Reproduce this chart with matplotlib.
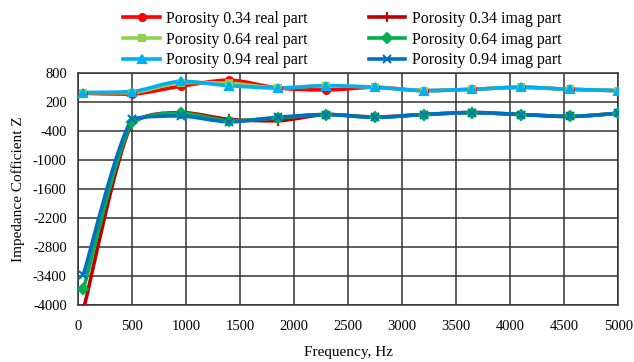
import numpy as np
import matplotlib
matplotlib.use("Agg")
import matplotlib.pyplot as plt
from matplotlib.path import Path
from matplotlib.patches import PathPatch
from matplotlib.lines import Line2D

plt.rcParams['font.family'] = ['Liberation Serif', 'DejaVu Serif']
plt.rcParams['axes.unicode_minus'] = False

# --- Data ---
freq = [50, 500, 950, 1400, 1850, 2300, 2750, 3200, 3650, 4100, 4550, 5000]

real_034 = [380, 360, 524, 650, 490, 448, 503, 434, 462, 503, 462, 434]
real_064 = [390, 390, 600, 590, 490, 537, 503, 434, 462, 503, 462, 434]
real_094 = [395, 414, 627, 537, 490, 537, 503, 434, 462, 503, 462, 434]

imag_034 = [-4100, -230, -20, -160, -190, -60, -110, -60, -20, -60, -100, -35]
imag_064 = [-3670, -220, -35, -190, -130, -60, -117, -60, -20, -60, -100, -35]
imag_094 = [-3370, -150, -90, -210, -117, -60, -117, -60, -20, -60, -100, -35]

labels = ["Porosity 0.34 real part", "Porosity 0.64 real part", "Porosity 0.94 real part",
          "Porosity 0.34 imag part", "Porosity 0.64 imag part", "Porosity 0.94 imag part"]
series = [real_034, real_064, real_094, imag_034, imag_064, imag_094]
colors = ["#FF0000", "#92D050", "#00B0F0", "#C00000", "#00B050", "#0070C0"]
markers = ["o", "s", "^", "+", "D", "x"]
msizes = [5, 5, 6, 7, 5, 6]


def smooth_path(x, y, t=1 / 6):
    # cubic Bezier through every point; control points kept inside each
    # segment's y range so the curve does not overshoot
    pts = np.column_stack([x, y]).astype(float)
    verts = [pts[0]]
    codes = [Path.MOVETO]
    n = len(pts)
    for i in range(n - 1):
        p0 = pts[i - 1] if i > 0 else pts[i]
        p1 = pts[i]
        p2 = pts[i + 1]
        p3 = pts[i + 2] if i + 2 < n else pts[i + 1]
        c1 = p1 + (p2 - p0) * t
        c2 = p2 - (p3 - p1) * t
        lo, hi = min(p1[1], p2[1]), max(p1[1], p2[1])
        c1[1] = np.clip(c1[1], lo, hi)
        c2[1] = np.clip(c2[1], lo, hi)
        verts += [c1, c2, p2]
        codes += [Path.CURVE4] * 3
    return Path(verts, codes)


fig = plt.figure(figsize=(6.34, 3.62), dpi=100)
ax = fig.add_axes([0.123, 0.1575, 0.852, 0.641])

order = [0, 3, 1, 4, 2, 5]
for i in order:
    patch = PathPatch(smooth_path(freq, series[i]), facecolor="none",
                      edgecolor=colors[i], lw=2.6, zorder=3 + i * 0.1,
                      capstyle="round", joinstyle="round")
    ax.add_patch(patch)
    ax.plot(freq, series[i], ls="none", marker=markers[i], ms=msizes[i],
            color=colors[i], mec=colors[i], mew=1.5, zorder=4 + i * 0.1)

ax.set_xlim(0, 5000)
ax.set_ylim(-4000, 800)
ax.set_xticks(np.arange(0, 5001, 500))
ax.set_yticks(np.arange(-4000, 801, 600))
ax.grid(True, color="#333333", lw=1.1)
ax.set_axisbelow(True)
ax.tick_params(axis="x", length=0, labelsize=10.5, pad=11)
ax.tick_params(axis="y", length=0, labelsize=10.5, pad=8)
for s in ax.spines.values():
    s.set_color("#333333")
    s.set_linewidth(1.1)

ax.set_xlabel("Frequency, Hz", fontsize=11, labelpad=9)
ax.set_ylabel("Impedance Cofficient Z", fontsize=11, labelpad=6)

handles = [Line2D([], [], color=colors[i], lw=2.6, marker=markers[i],
                  ms=msizes[i], mec=colors[i], mew=1.5) for i in range(6)]
fig.legend(handles, labels, ncol=2, loc="upper center",
           bbox_to_anchor=(0.54, 1.01), frameon=False, fontsize=11.5,
           handlelength=2.3, columnspacing=3.8, labelspacing=0.3,
           handletextpad=0.4)

fig.savefig("out.png", dpi=100)
